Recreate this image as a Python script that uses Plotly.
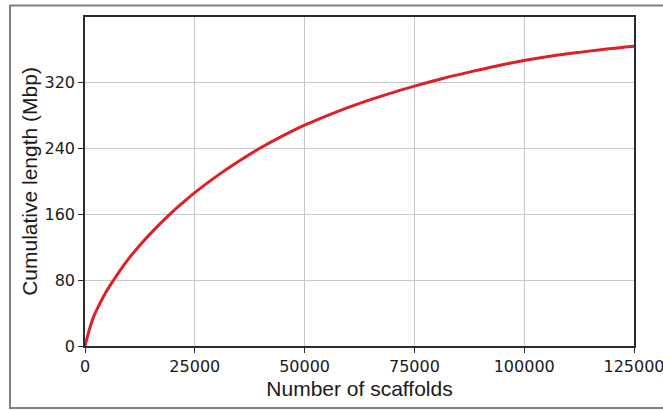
import plotly.graph_objects as go

scaffolds = [0, 1000, 2000, 3000, 4000, 5000, 6500, 8000, 10000, 12500, 15500,
             19300, 22000, 25000, 30000, 35000, 40000, 45000, 50000, 56000, 62500,
             68750, 75000, 81250, 87500, 93750, 100000, 106250, 112500, 118750, 125000]
cum_length = [0, 20, 36, 47.5, 58, 67.5, 80, 92, 106.5, 122.5, 140,
              160, 173, 186.5, 206.5, 224.5, 241, 255.5, 268.5, 282, 295,
              306, 316, 325, 333, 340.5, 347, 352.5, 357, 361, 364.5]

x_ticks = [0, 25000, 50000, 75000, 100000, 125000]
y_ticks = [0, 80, 160, 240, 320]

tick_font = "DejaVu Sans"
title_font = "Liberation Sans"

fig = go.Figure()
fig.add_trace(go.Scatter(
    x=scaffolds, y=cum_length, mode="lines",
    line=dict(color="#de1f26", width=3, shape="spline", smoothing=1.0),
    showlegend=False, hoverinfo="skip",
))

axis_common = dict(
    showline=True, linecolor="#2b2b2b", linewidth=1.6, mirror=True,
    showgrid=True, gridcolor="#c8c8c8", gridwidth=1,
    ticks="outside", ticklen=5, tickwidth=1.3, tickcolor="#2b2b2b",
    zeroline=False, automargin=False, ticklabeloverflow="allow",
    tickfont=dict(family=tick_font, size=16, color="#1a1a1a"),
)

fig.update_xaxes(
    range=[0, 125000], tickvals=x_ticks, ticktext=[str(v) for v in x_ticks],
    title=dict(text="Number of scaffolds", font=dict(family=title_font, size=21, color="#1a1a1a"), standoff=6),
    **axis_common,
)
fig.update_yaxes(
    range=[0, 400], tickvals=y_ticks, ticktext=[str(v) for v in y_ticks],
    title=dict(text="Cumulative length (Mbp)", font=dict(family=title_font, size=21, color="#1a1a1a"), standoff=1),
    **axis_common,
)

# outer frame
fig.add_shape(type="rect", xref="paper", yref="paper",
              x0=-0.1366, x1=1.12, y0=-0.1884, y1=1.035,
              line=dict(color="#808080", width=2), fillcolor="rgba(0,0,0,0)", layer="below")

fig.update_layout(
    width=663, height=410,
    margin=dict(l=85, r=29, t=17, b=64),
    paper_bgcolor="white", plot_bgcolor="white",
)

fig.write_html("out.html")
